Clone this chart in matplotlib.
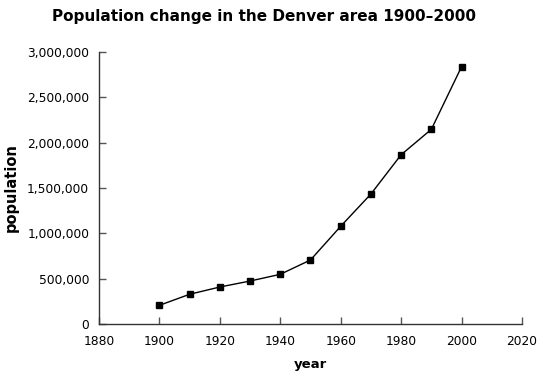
import matplotlib.pyplot as plt
from matplotlib.ticker import FuncFormatter

# Data
years = [1900, 1910, 1920, 1930, 1940, 1950, 1960, 1970, 1980, 1990, 2000]
population = [206000, 328000, 408000, 474000, 548000, 706000,
              1078000, 1434000, 1867000, 2147000, 2838000]

x_ticks = [1880, 1900, 1920, 1940, 1960, 1980, 2000, 2020]
y_ticks = [0, 500000, 1000000, 1500000, 2000000, 2500000, 3000000]

plt.rcParams['font.family'] = ['DejaVu Sans']

fig = plt.figure(figsize=(5.4, 3.84), dpi=100)
ax = fig.add_axes([99 / 540, 1 - 324 / 384, (522 - 99) / 540, (324 - 52) / 384])

ax.plot(years, population, color='black', linewidth=1,
        marker='s', markersize=5, markerfacecolor='black', markeredgecolor='black')

ax.set_xlim(1880, 2020)
ax.set_ylim(0, 3000000)
ax.set_xticks(x_ticks)
ax.set_yticks(y_ticks)
ax.yaxis.set_major_formatter(FuncFormatter(lambda v, p: f"{int(v):,}"))

for side in ['top', 'right']:
    ax.spines[side].set_visible(False)
for side in ['left', 'bottom']:
    ax.spines[side].set_color('#333333')
    ax.spines[side].set_linewidth(1)

ax.tick_params(direction='in', length=5, width=1, color='#555555',
               labelsize=8.8, labelcolor='black')
ax.tick_params(axis='x', pad=8)
ax.tick_params(axis='y', pad=7)

fig.text(264 / 540, 1 - 17 / 384, "Population change in the Denver area 1900\u20132000",
         fontsize=11, fontweight='bold', ha='center', va='center')
ax.set_xlabel("year", fontsize=9.5, fontweight='bold', labelpad=7)
ax.set_ylabel("population", fontsize=10.5, fontweight='bold', labelpad=6)

fig.savefig("out.png", dpi=100)
